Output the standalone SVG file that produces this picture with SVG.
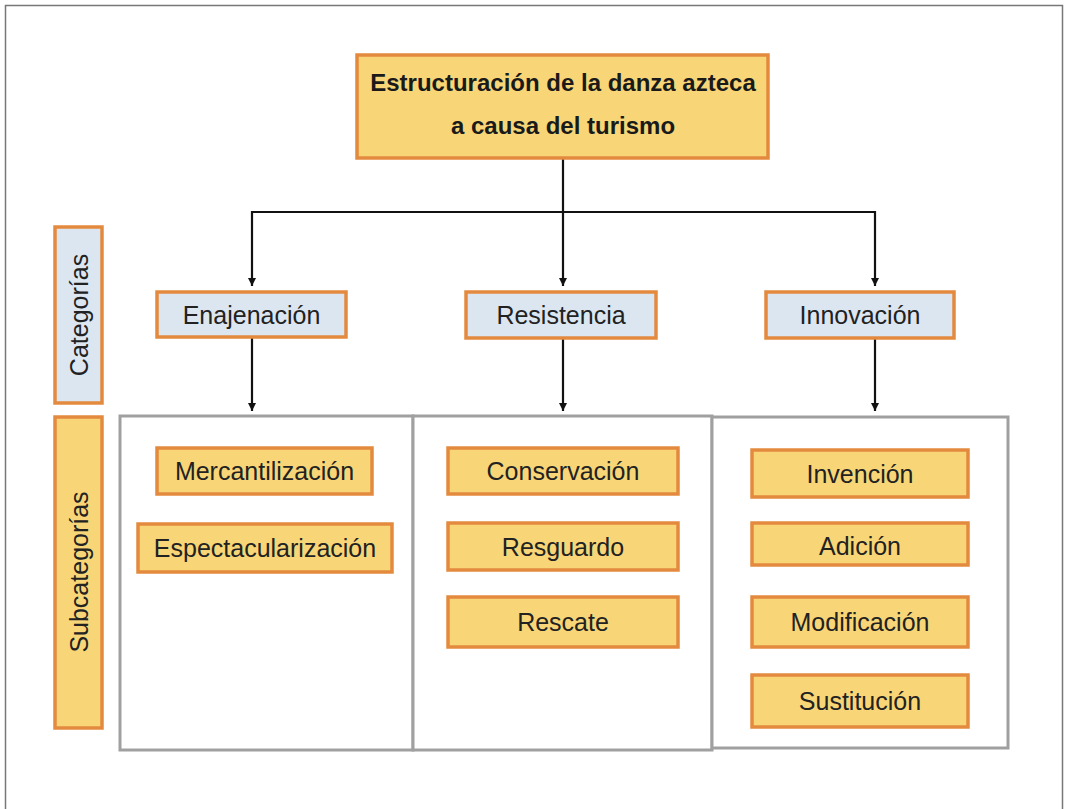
<svg xmlns="http://www.w3.org/2000/svg" width="1065" height="809" viewBox="0 0 1065 809">
<defs>
<style>
.y{fill:#F8D677;stroke:#E38A3F;stroke-width:3.5}
.b{fill:#DCE6F1;stroke:#E38A3F;stroke-width:3.5}
.p{fill:#fff;stroke:#A0A0A0;stroke-width:3}
.t{font-family:"Liberation Sans",Arial,sans-serif;font-size:25px;fill:#222;text-anchor:middle;dominant-baseline:central}
.tb{font-family:"Liberation Sans",Arial,sans-serif;font-size:24px;font-weight:bold;fill:#1a1a1a;text-anchor:middle}
.c{fill:none;stroke:#111;stroke-width:2.2}
</style>
<marker id="ah" viewBox="0 0 10 10" refX="10" refY="5" markerWidth="9" markerHeight="8" orient="auto" markerUnits="userSpaceOnUse">
<path d="M0,0 L10,5 L0,10 z" fill="#111"/>
</marker>
</defs>
<rect width="1065" height="809" fill="#fff"/>
<path d="M5.5,809 V5.5 H1062.5 V809" fill="none" stroke="#777" stroke-width="1.5"/>

<g id="panels">
<rect class="p" x="120" y="416" width="293" height="334"/>
<rect class="p" x="413" y="416" width="299" height="334"/>
<rect class="p" x="712" y="417" width="296" height="331"/>
</g>

<g id="connectors">
<path class="c" d="M563,158 V212"/>
<path class="c" d="M252,212 H875"/>
<path class="c" d="M252,211 V286" marker-end="url(#ah)"/>
<path class="c" d="M563,212 V286" marker-end="url(#ah)"/>
<path class="c" d="M875,211 V286" marker-end="url(#ah)"/>
<path class="c" d="M252,338 V411" marker-end="url(#ah)"/>
<path class="c" d="M563,338 V411" marker-end="url(#ah)"/>
<path class="c" d="M875,338 V411" marker-end="url(#ah)"/>
</g>

<g id="title">
<rect class="y" x="357" y="55" width="411" height="103"/>
<text class="tb" x="563" y="91">Estructuración de la danza azteca</text>
<text class="tb" x="563" y="134">a causa del turismo</text>
</g>

<g id="label-categorias">
<rect class="b" x="55" y="227" width="47" height="176"/>
<text class="t" transform="translate(79,315) rotate(-90)">Categorías</text>
</g>
<g id="label-subcategorias">
<rect class="y" x="55" y="417" width="47" height="311"/>
<text class="t" transform="translate(79,572) rotate(-90)">Subcategorías</text>
</g>

<g id="enajenacion">
<rect class="b" x="157" y="292" width="189" height="45"/>
<text class="t" x="251.5" y="315">Enajenación</text>
</g>
<g id="resistencia">
<rect class="b" x="466" y="292" width="190" height="46"/>
<text class="t" x="561" y="315">Resistencia</text>
</g>
<g id="innovacion">
<rect class="b" x="766" y="292" width="188" height="46"/>
<text class="t" x="860" y="315">Innovación</text>
</g>

<g id="mercantilizacion">
<rect class="y" x="157" y="448" width="215" height="46"/>
<text class="t" x="264.5" y="471">Mercantilización</text>
</g>
<g id="espectacularizacion">
<rect class="y" x="138" y="524" width="254" height="48"/>
<text class="t" x="265" y="548">Espectacularización</text>
</g>

<g id="conservacion">
<rect class="y" x="448" y="448" width="230" height="46"/>
<text class="t" x="563" y="471">Conservación</text>
</g>
<g id="resguardo">
<rect class="y" x="448" y="523" width="230" height="47"/>
<text class="t" x="563" y="546.5">Resguardo</text>
</g>
<g id="rescate">
<rect class="y" x="448" y="597" width="230" height="50"/>
<text class="t" x="563" y="622">Rescate</text>
</g>

<g id="invencion">
<rect class="y" x="752" y="450" width="216" height="47"/>
<text class="t" x="860" y="473.5">Invención</text>
</g>
<g id="adicion">
<rect class="y" x="752" y="523" width="216" height="42"/>
<text class="t" x="860" y="546">Adición</text>
</g>
<g id="modificacion">
<rect class="y" x="752" y="597" width="216" height="50"/>
<text class="t" x="860" y="622">Modificación</text>
</g>
<g id="sustitucion">
<rect class="y" x="752" y="675" width="216" height="52"/>
<text class="t" x="860" y="701">Sustitución</text>
</g>
</svg>
